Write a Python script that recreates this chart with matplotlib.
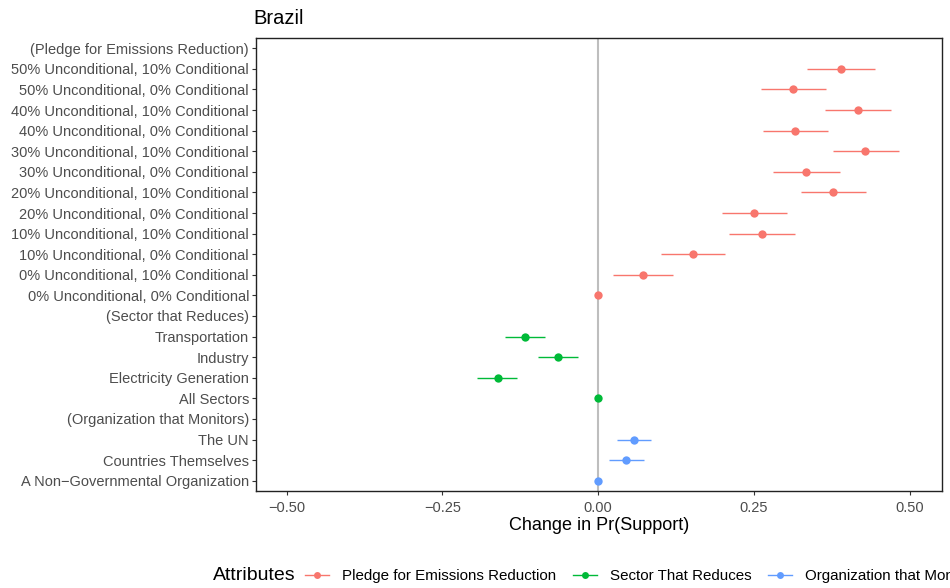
import matplotlib
matplotlib.use("Agg")
from matplotlib import pyplot as plt
from matplotlib.lines import Line2D
import numpy as np

plt.rcParams['font.family'] = ['Liberation Sans', 'DejaVu Sans']

# rows listed from top to bottom
labels = [
    "(Pledge for Emissions Reduction)",
    "50% Unconditional, 10% Conditional",
    "50% Unconditional, 0% Conditional",
    "40% Unconditional, 10% Conditional",
    "40% Unconditional, 0% Conditional",
    "30% Unconditional, 10% Conditional",
    "30% Unconditional, 0% Conditional",
    "20% Unconditional, 10% Conditional",
    "20% Unconditional, 0% Conditional",
    "10% Unconditional, 10% Conditional",
    "10% Unconditional, 0% Conditional",
    "0% Unconditional, 10% Conditional",
    "0% Unconditional, 0% Conditional",
    "(Sector that Reduces)",
    "Transportation",
    "Industry",
    "Electricity Generation",
    "All Sectors",
    "(Organization that Monitors)",
    "The UN",
    "Countries Themselves",
    "A Non\u2212Governmental Organization",
]
nan = np.nan
estimate = [nan, 0.390, 0.313, 0.417, 0.316, 0.429, 0.334, 0.377, 0.250, 0.263, 0.152, 0.072, 0.0,
            nan, -0.117, -0.064, -0.161, 0.0,
            nan, 0.058, 0.045, 0.0]
lower = [nan, 0.335, 0.262, 0.364, 0.265, 0.377, 0.281, 0.326, 0.199, 0.210, 0.101, 0.024, 0.0,
         nan, -0.149, -0.096, -0.194, 0.0,
         nan, 0.030, 0.018, 0.0]
upper = [nan, 0.444, 0.366, 0.470, 0.369, 0.483, 0.388, 0.430, 0.303, 0.316, 0.204, 0.120, 0.0,
         nan, -0.085, -0.032, -0.130, 0.0,
         nan, 0.085, 0.073, 0.0]
group = ["Pledge for Emissions Reduction"] * 13 + ["Sector That Reduces"] * 5 + ["Organization that Monitors"] * 4

groups = ["Pledge for Emissions Reduction", "Sector That Reduces", "Organization that Monitors"]
colors = {"Pledge for Emissions Reduction": "#F8766D",
          "Sector That Reduces": "#00BA38",
          "Organization that Monitors": "#619CFF"}

xticks = [-0.50, -0.25, 0.00, 0.25, 0.50]
xticklabels = ["\u22120.50", "\u22120.25", "0.00", "0.25", "0.50"]

n = len(labels)
ypos = np.arange(n)[::-1]

fig = plt.figure(figsize=(9.5, 5.88), dpi=100)
ax = fig.add_axes([256 / 950, 1 - 491 / 588, (942 - 256) / 950, (491 - 38) / 588])

ax.axvline(0, color="#BEBEBE", lw=1.5, zorder=1)

est = np.array(estimate)
lo = np.array(lower)
hi = np.array(upper)
grp = np.array(group)
for g in groups:
    m = (grp == g) & ~np.isnan(est)
    ax.hlines(ypos[m], lo[m], hi[m], color=colors[g], lw=1.0, zorder=2)
    ax.plot(est[m], ypos[m], "o", color=colors[g], ms=6, mec="none", zorder=3)

ax.set_yticks(ypos)
ax.set_yticklabels(labels)
ax.set_ylim(-0.5, n - 0.5)
ax.set_xlim(-0.549, 0.552)
ax.set_xticks(xticks)
ax.set_xticklabels(xticklabels)
ax.tick_params(axis="both", labelsize=10.5, labelcolor="#4D4D4D", color="#333333",
               length=3, width=0.8, pad=2)
ax.tick_params(axis="x", pad=4)
for s in ax.spines.values():
    s.set_color("#222222")
    s.set_linewidth(1.0)

ax.set_xlabel("Change in Pr(Support)", fontsize=13, color="black", labelpad=2)
fig.text(253 / 950, 1 - 18 / 588, "Brazil", fontsize=14.5, ha="left", va="center")

# legend at the bottom, cut off on the right like the original
fig.text(213 / 950, 1 - 576 / 588, "Attributes", fontsize=14, ha="left", va="center")
handles = [Line2D([], [], color=colors[g], marker="o", ms=5, mec="none", lw=1.0) for g in groups]
fig.legend(handles, groups, ncol=3, loc="center left",
           bbox_to_anchor=(305 / 950, 1 - 576 / 588), frameon=False,
           fontsize=10.9, handlelength=1.6, handletextpad=0.85, columnspacing=1.1,
           borderpad=0, borderaxespad=0)

fig.savefig("out.png", dpi=100)
